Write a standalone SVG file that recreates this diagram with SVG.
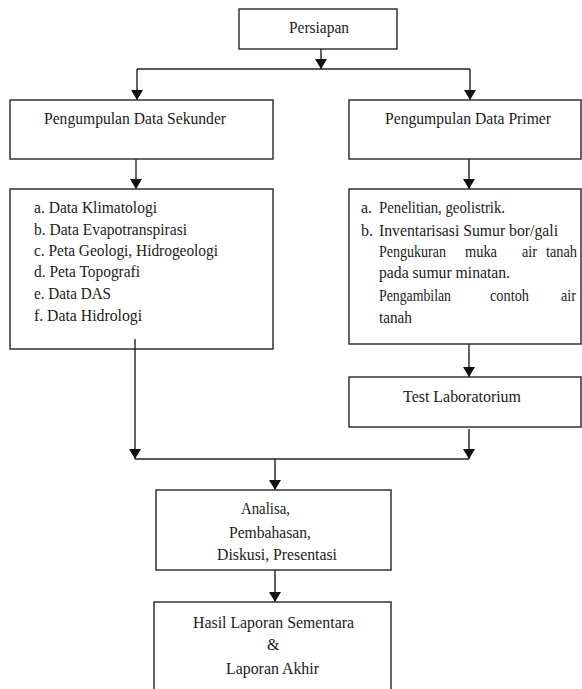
<svg xmlns="http://www.w3.org/2000/svg" width="582" height="689" viewBox="0 0 582 689">
  <defs>
    <marker id="arrow" viewBox="0 0 10 12" refX="10" refY="6" markerWidth="10" markerHeight="12" markerUnits="userSpaceOnUse" orient="auto">
      <path d="M0,0 L10,6 L0,12 Z" fill="#111"/>
    </marker>
    <style>
      .box { fill: #fff; stroke: #333; stroke-width: 1.5; }
      .conn { fill: none; stroke: #222; stroke-width: 1.4; }
      .arr { marker-end: url(#arrow); }
      text { font-family: "Liberation Serif", "Times New Roman", serif; font-size: 16px; fill: #1a1a1a; }
    </style>
  </defs>
  <rect width="582" height="689" fill="#fff"/>

  <!-- connectors -->
  <g id="connectors">
    <line class="conn arr" x1="321" y1="49" x2="321" y2="69"/>
    <line class="conn" x1="137" y1="69" x2="470" y2="69"/>
    <line class="conn arr" x1="137" y1="69" x2="137" y2="100"/>
    <line class="conn arr" x1="470" y1="69" x2="470" y2="100"/>
    <line class="conn arr" x1="136" y1="159" x2="136" y2="189"/>
    <line class="conn arr" x1="469" y1="159" x2="469" y2="189"/>
    <line class="conn arr" x1="469" y1="344" x2="469" y2="377"/>
    <line class="conn arr" x1="135" y1="339" x2="135" y2="459"/>
    <line class="conn arr" x1="469" y1="429" x2="469" y2="459"/>
    <line class="conn" x1="135" y1="459" x2="469" y2="459"/>
    <line class="conn arr" x1="275" y1="459" x2="275" y2="490"/>
    <line class="conn arr" x1="275" y1="570" x2="275" y2="602"/>
  </g>

  <g id="persiapan">
    <rect class="box" x="239" y="9" width="158" height="40"/>
    <text x="289" y="33" textLength="60" lengthAdjust="spacingAndGlyphs">Persiapan</text>
  </g>

  <g id="data-sekunder">
    <rect class="box" x="10" y="100" width="263" height="59"/>
    <text x="44" y="124" textLength="182" lengthAdjust="spacingAndGlyphs">Pengumpulan Data Sekunder</text>
  </g>

  <g id="data-primer">
    <rect class="box" x="349" y="100" width="232" height="59"/>
    <text x="385" y="124" textLength="166" lengthAdjust="spacingAndGlyphs">Pengumpulan Data Primer</text>
  </g>

  <g id="list-sekunder">
    <rect class="box" x="10" y="189" width="263" height="160"/>
    <line class="conn" x1="135" y1="339" x2="135" y2="350"/>
    <text x="34" y="213" textLength="123" lengthAdjust="spacingAndGlyphs">a. Data Klimatologi</text>
    <text x="34" y="235" textLength="153" lengthAdjust="spacingAndGlyphs">b. Data Evapotranspirasi</text>
    <text x="34" y="256" textLength="184" lengthAdjust="spacingAndGlyphs">c. Peta Geologi, Hidrogeologi</text>
    <text x="34" y="277" textLength="106" lengthAdjust="spacingAndGlyphs">d. Peta Topografi</text>
    <text x="34" y="299" textLength="77" lengthAdjust="spacingAndGlyphs">e. Data DAS</text>
    <text x="34" y="321" textLength="108" lengthAdjust="spacingAndGlyphs">f. Data Hidrologi</text>
  </g>

  <g id="list-primer">
    <rect class="box" x="349" y="189" width="232" height="155"/>
    <text x="361" y="213">a.</text>
    <text x="379" y="213" textLength="126" lengthAdjust="spacingAndGlyphs">Penelitian, geolistrik.</text>
    <text x="361" y="236">b.</text>
    <text x="379" y="236" textLength="179" lengthAdjust="spacingAndGlyphs">Inventarisasi Sumur bor/gali</text>
    <!-- justified lines: one text per word -->
    <text x="379" y="257" textLength="67" lengthAdjust="spacingAndGlyphs">Pengukuran</text>
    <text x="465" y="257" textLength="32" lengthAdjust="spacingAndGlyphs">muka</text>
    <text x="522" y="257" textLength="15" lengthAdjust="spacingAndGlyphs">air</text>
    <text x="546" y="257" textLength="31" lengthAdjust="spacingAndGlyphs">tanah</text>
    <text x="379" y="278" textLength="131" lengthAdjust="spacingAndGlyphs">pada sumur minatan.</text>
    <text x="379" y="301" textLength="72" lengthAdjust="spacingAndGlyphs">Pengambilan</text>
    <text x="490" y="301" textLength="39" lengthAdjust="spacingAndGlyphs">contoh</text>
    <text x="561" y="301" textLength="15" lengthAdjust="spacingAndGlyphs">air</text>
    <text x="379" y="323" textLength="33" lengthAdjust="spacingAndGlyphs">tanah</text>
  </g>

  <g id="test-laboratorium">
    <rect class="box" x="349" y="377" width="232" height="50"/>
    <text x="403" y="402" textLength="118" lengthAdjust="spacingAndGlyphs">Test Laboratorium</text>
  </g>

  <g id="analisa">
    <rect class="box" x="156" y="490" width="235" height="80"/>
    <text x="241" y="514" textLength="49" lengthAdjust="spacingAndGlyphs">Analisa,</text>
    <text x="229" y="538" textLength="82" lengthAdjust="spacingAndGlyphs">Pembahasan,</text>
    <text x="217" y="560" textLength="120" lengthAdjust="spacingAndGlyphs">Diskusi, Presentasi</text>
  </g>

  <g id="hasil-laporan">
    <rect class="box" x="154" y="602" width="237" height="100"/>
    <text x="193" y="628" textLength="161" lengthAdjust="spacingAndGlyphs">Hasil Laporan Sementara</text>
    <text x="267" y="650">&amp;</text>
    <text x="226" y="674" textLength="93" lengthAdjust="spacingAndGlyphs">Laporan Akhir</text>
  </g>
</svg>
